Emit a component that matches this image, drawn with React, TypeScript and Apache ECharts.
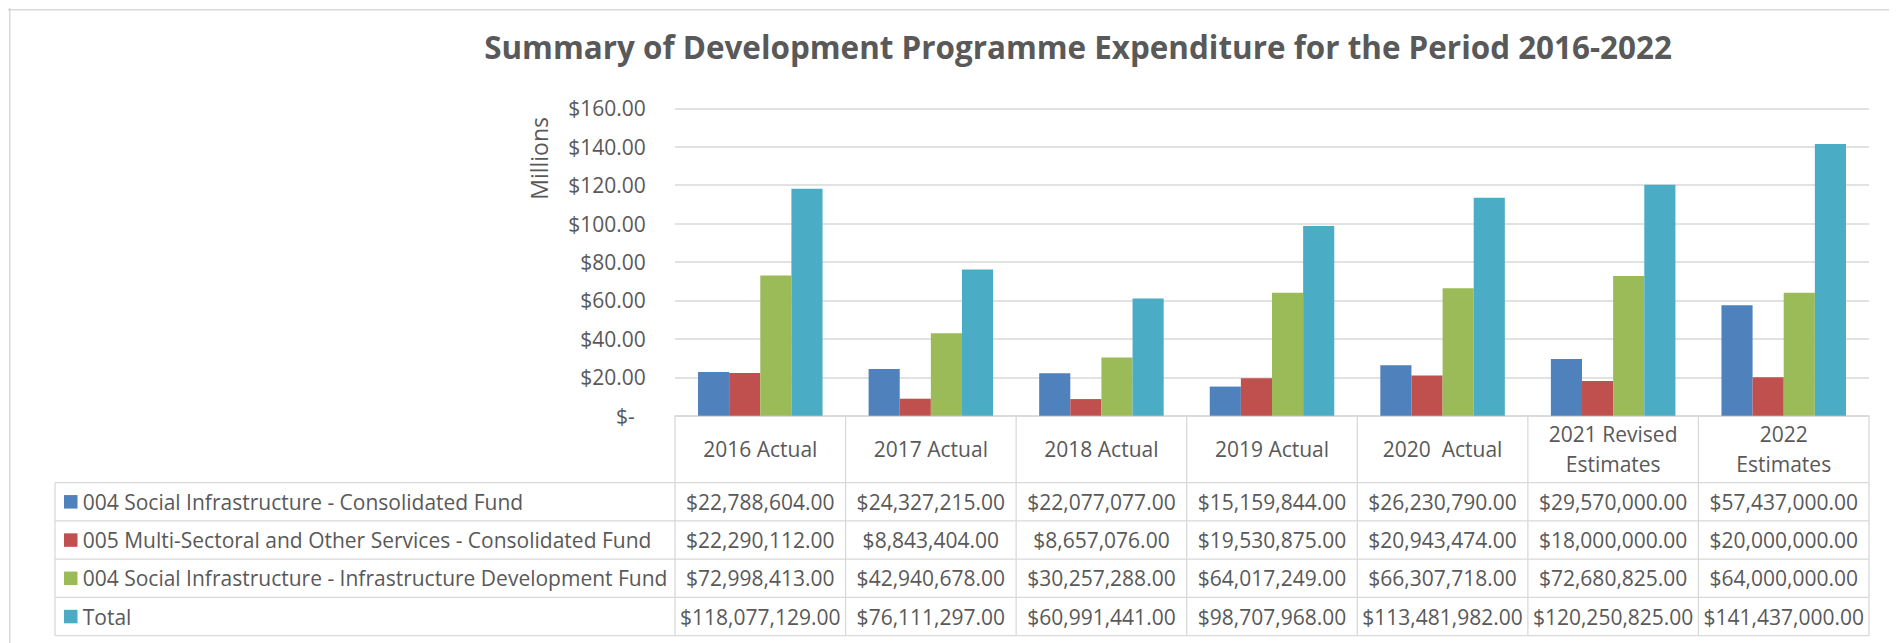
import React, { useEffect, useRef } from "react";
import * as echarts from "echarts";

const titleText = "Summary of Development Programme Expenditure for the Period 2016-2022";
const axisName = "Millions";
const categories = [
  "2016 Actual",
  "2017 Actual",
  "2018 Actual",
  "2019 Actual",
  "2020  Actual",
  "2021 Revised\nEstimates",
  "2022\nEstimates",
];
const seriesNames = [
  "004 Social Infrastructure - Consolidated Fund",
  "005 Multi-Sectoral and Other Services - Consolidated Fund",
  "004 Social Infrastructure - Infrastructure Development Fund",
  "Total",
];
const socialConsolidated = [22788604, 24327215, 22077077, 15159844, 26230790, 29570000, 57437000];
const multiSectoral = [22290112, 8843404, 8657076, 19530875, 20943474, 18000000, 20000000];
const socialInfraFund = [72998413, 42940678, 30257288, 64017249, 66307718, 72680825, 64000000];
const totals = [118077129, 76111297, 60991441, 98707968, 113481982, 120250825, 141437000];
const seriesColors = ["#4f81bd", "#c0504d", "#9bbb59", "#4bacc6"];
const yMin = 0;
const yMax = 160;
const yInterval = 20;

const FONT = '"Open Sans", "Noto Sans", sans-serif';
const TEXT = "#595959";
const LINE = "#d9d9d9";

function money(v: number): string {
  return "$" + v.toLocaleString("en-US", { minimumFractionDigits: 2, maximumFractionDigits: 2 });
}

export default function App() {
  const ref = useRef<HTMLDivElement>(null);
  useEffect(() => {
    document.body.style.overflow = "hidden";
    const chart = echarts.init(ref.current!, undefined, { renderer: "svg" });
    const allSeries = [socialConsolidated, multiSectoral, socialInfraFund, totals];
    chart.setOption({
      animation: false,
      grid: { left: 667, right: 28, top: 100.3, bottom: 227.3, containLabel: false },
      xAxis: {
        type: "category",
        data: categories,
        axisLine: { lineStyle: { color: LINE, width: 1.5 } },
        axisTick: { show: false },
        splitLine: { show: false },
        axisLabel: {
          interval: 0,
          margin: 33.5,
          verticalAlign: "middle",
          lineHeight: 30,
          color: TEXT,
          fontSize: 21,
          fontFamily: FONT,
        },
      },
      yAxis: {
        type: "value",
        min: yMin,
        max: yMax,
        interval: yInterval,
        axisLine: { show: false },
        axisTick: { show: false },
        axisLabel: {
          margin: 29.3,
          color: TEXT,
          fontSize: 21,
          fontFamily: FONT,
          formatter: (v: number) => (v === 0 ? "$-\u00a0\u00a0" : "$" + v.toFixed(2)),
        },
        splitLine: { lineStyle: { color: LINE, width: 1.5 } },
      },
      series: allSeries.map((arr, i) => ({
        type: "bar",
        name: seriesNames[i],
        data: arr.map((v) => v / 1e6),
        barGap: "0%",
        barCategoryGap: "27%",
        itemStyle: { color: seriesColors[i] },
      })),
    });

    const c0 = chart.convertToPixel({ xAxisIndex: 0 }, 0) as number;
    const c1 = chart.convertToPixel({ xAxisIndex: 0 }, 1) as number;
    const band = c1 - c0;
    const axisY = chart.convertToPixel({ yAxisIndex: 0 }, 0) as number;
    const n = categories.length;
    const colLeft = c0 - band / 2;
    const colRight = colLeft + band * n;
    const tableLeft = 47;
    const rowTop0 = 474.7;
    const rowH = 38.25;
    const nRows = seriesNames.length;
    const tableBottom = rowTop0 + rowH * nRows;

    const els: any[] = [];
    const line = (x1: number, y1: number, x2: number, y2: number, w = 1.3) =>
      els.push({ type: "line", silent: true, shape: { x1, y1, x2, y2 }, style: { stroke: LINE, lineWidth: w } });

    // chart area border (top & left)
    line(0, 1.75, 1889, 1.75, 1.5);
    line(1.75, 0, 1.75, 635, 1.5);

    // table grid lines
    for (let r = 0; r <= nRows; r++) {
      line(tableLeft, rowTop0 + r * rowH, colRight, rowTop0 + r * rowH);
    }
    line(tableLeft, rowTop0, tableLeft, tableBottom);
    for (let k = 0; k <= n; k++) {
      const x = colLeft + k * band;
      line(x, axisY, x, tableBottom);
    }

    // rows: legend keys, names, values
    allSeries.forEach((arr, r) => {
      const cy = rowTop0 + r * rowH + rowH / 2;
      els.push({
        type: "rect",
        silent: true,
        shape: { x: 56, y: cy - 6.75, width: 13.5, height: 13.5 },
        style: { fill: seriesColors[r] },
      });
      els.push({
        type: "text",
        silent: true,
        x: 74.7,
        y: cy,
        style: { text: seriesNames[r], fill: TEXT, fontSize: 21, fontFamily: FONT, align: "left", verticalAlign: "middle" },
      });
      arr.forEach((v, i) => {
        els.push({
          type: "text",
          silent: true,
          x: c0 + i * band,
          y: cy,
          style: { text: money(v), fill: TEXT, fontSize: 21, fontFamily: FONT, align: "center", verticalAlign: "middle" },
        });
      });
    });

    // title
    els.push({
      type: "text",
      silent: true,
      x: 1070,
      y: 38.5,
      style: { text: titleText, fill: TEXT, fontSize: 31.4, fontWeight: "bold", fontFamily: FONT, align: "center", verticalAlign: "middle" },
    });
    // axis name
    els.push({
      type: "text",
      silent: true,
      x: 530.5,
      y: 150.4,
      rotation: Math.PI / 2,
      style: { text: axisName, fill: TEXT, fontSize: 23, fontFamily: FONT, align: "center", verticalAlign: "middle" },
    });

    chart.setOption({ graphic: { elements: els } });
    return () => chart.dispose();
  }, []);
  return <div ref={ref} style={{ width: 1889, height: 635 }} />;
}
